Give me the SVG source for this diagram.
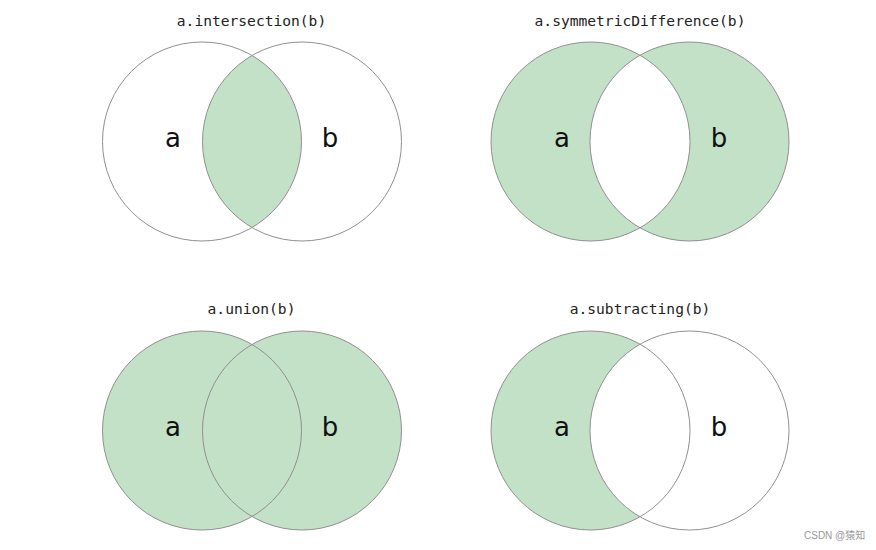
<svg xmlns="http://www.w3.org/2000/svg" width="876" height="550" viewBox="0 0 876 550">
<style>
.t{font-family:"DejaVu Sans Mono","Liberation Mono",monospace;font-size:14.6px;fill:#222;text-anchor:middle}
.l{font-family:"DejaVu Sans","Liberation Sans",sans-serif;font-size:26px;fill:#111;text-anchor:middle}
.s{fill:none;stroke:#909090;stroke-width:1}
.g{fill:#c3e1c6}
.w{fill:#fff}
.wm{font-family:"Liberation Sans","Noto Sans CJK SC",sans-serif;font-size:10px;fill:#999}
</style>
<rect width="876" height="550" fill="#fff"/>
<g id="intersection">
<text class="t" x="251.5" y="26">a.intersection(b)</text>
<path class="g" d="M252,55.5 A99.5,99.5 0 0 1 252,227.5 A99.5,99.5 0 0 1 252,55.5Z"/>
<circle class="s" cx="202" cy="141.5" r="99.5"/>
<circle class="s" cx="302" cy="141.5" r="99.5"/>
<text class="l" x="173" y="147">a</text>
<text class="l" x="330" y="147">b</text>
</g>
<g id="symmetricDifference">
<text class="t" x="640" y="26">a.symmetricDifference(b)</text>
<path class="g" fill-rule="evenodd" d="M491,141.5 a99.5,99.5 0 1 0 199,0 a99.5,99.5 0 1 0 -199,0Z M590,141.5 a99.5,99.5 0 1 0 199,0 a99.5,99.5 0 1 0 -199,0Z"/>
<circle class="s" cx="590.5" cy="141.5" r="99.5"/>
<circle class="s" cx="689.5" cy="141.5" r="99.5"/>
<text class="l" x="562" y="147">a</text>
<text class="l" x="719" y="147">b</text>
</g>
<g id="union">
<text class="t" x="251.5" y="314">a.union(b)</text>
<circle class="g" cx="202" cy="430.5" r="99.5"/>
<circle class="g" cx="302" cy="430.5" r="99.5"/>
<circle class="s" cx="202" cy="430.5" r="99.5"/>
<circle class="s" cx="302" cy="430.5" r="99.5"/>
<text class="l" x="173" y="436">a</text>
<text class="l" x="330" y="436">b</text>
</g>
<g id="subtracting">
<text class="t" x="640" y="314">a.subtracting(b)</text>
<circle class="g" cx="590.5" cy="430.5" r="99.5"/>
<circle class="w" cx="689.5" cy="430.5" r="99.5"/>
<circle class="s" cx="590.5" cy="430.5" r="99.5"/>
<circle class="s" cx="689.5" cy="430.5" r="99.5"/>
<text class="l" x="562" y="436">a</text>
<text class="l" x="719" y="436">b</text>
</g>
<g id="connectors"></g>
<text class="wm" x="804" y="539">CSDN @猿知</text>
</svg>
